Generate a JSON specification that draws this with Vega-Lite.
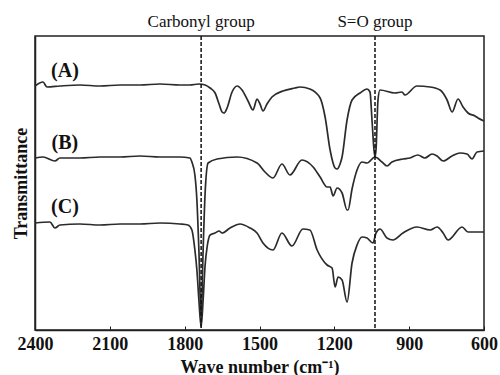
{
  "$schema": "https://vega.github.io/schema/vega-lite/v6.json",
  "autosize": {"type": "none"},
  "padding": {"left": 35, "top": 36, "right": 16, "bottom": 45},
  "width": 449,
  "height": 294,
  "background": "white",
  "config": {
    "view": {"stroke": null},
    "font": "Liberation Serif"
  },
  "datasets": {
    "spectra": [
      {"s":"A","wn":2400,"t":244},{"s":"A","wn":2368,"t":248},{"s":"A","wn":2352,"t":243},{"s":"A","wn":2300,"t":244},{"s":"A","wn":2220,"t":245},{"s":"A","wn":2139,"t":244},{"s":"A","wn":2059,"t":245},{"s":"A","wn":1979,"t":245},{"s":"A","wn":1899,"t":246},{"s":"A","wn":1819,"t":245},{"s":"A","wn":1779,"t":245},{"s":"A","wn":1743,"t":246},{"s":"A","wn":1718,"t":245},{"s":"A","wn":1698,"t":242},{"s":"A","wn":1678,"t":237},{"s":"A","wn":1662,"t":226},{"s":"A","wn":1650,"t":218},{"s":"A","wn":1642,"t":217},{"s":"A","wn":1630,"t":222},{"s":"A","wn":1610,"t":238},{"s":"A","wn":1590,"t":244},{"s":"A","wn":1570,"t":240},{"s":"A","wn":1546,"t":229},{"s":"A","wn":1526,"t":220},{"s":"A","wn":1510,"t":231},{"s":"A","wn":1498,"t":226},{"s":"A","wn":1486,"t":219},{"s":"A","wn":1470,"t":226},{"s":"A","wn":1450,"t":233},{"s":"A","wn":1406,"t":239},{"s":"A","wn":1358,"t":242},{"s":"A","wn":1338,"t":243},{"s":"A","wn":1298,"t":241},{"s":"A","wn":1257,"t":232},{"s":"A","wn":1237,"t":213},{"s":"A","wn":1217,"t":180},{"s":"A","wn":1197,"t":162},{"s":"A","wn":1189,"t":161},{"s":"A","wn":1177,"t":166},{"s":"A","wn":1169,"t":173},{"s":"A","wn":1149,"t":210},{"s":"A","wn":1129,"t":230},{"s":"A","wn":1097,"t":237},{"s":"A","wn":1069,"t":241},{"s":"A","wn":1057,"t":238},{"s":"A","wn":1049,"t":210},{"s":"A","wn":1041,"t":180},{"s":"A","wn":1037,"t":173},{"s":"A","wn":1033,"t":180},{"s":"A","wn":1025,"t":230},{"s":"A","wn":1017,"t":240},{"s":"A","wn":957,"t":237},{"s":"A","wn":929,"t":238},{"s":"A","wn":917,"t":235},{"s":"A","wn":869,"t":244},{"s":"A","wn":816,"t":243},{"s":"A","wn":776,"t":240},{"s":"A","wn":748,"t":230},{"s":"A","wn":728,"t":218},{"s":"A","wn":704,"t":231},{"s":"A","wn":684,"t":223},{"s":"A","wn":664,"t":217},{"s":"A","wn":636,"t":214},{"s":"A","wn":624,"t":212},{"s":"A","wn":600,"t":209},

      {"s":"B","wn":2400,"t":172},{"s":"B","wn":2368,"t":173},{"s":"B","wn":2320,"t":169},{"s":"B","wn":2300,"t":172},{"s":"B","wn":2220,"t":172},{"s":"B","wn":2139,"t":173},{"s":"B","wn":2059,"t":173},{"s":"B","wn":1979,"t":174},{"s":"B","wn":1899,"t":173},{"s":"B","wn":1819,"t":173},{"s":"B","wn":1779,"t":172},{"s":"B","wn":1771,"t":168},{"s":"B","wn":1759,"t":155},{"s":"B","wn":1751,"t":130},{"s":"B","wn":1743,"t":80},{"s":"B","wn":1734,"t":10},{"s":"B","wn":1726,"t":80},{"s":"B","wn":1718,"t":137},{"s":"B","wn":1706,"t":167},{"s":"B","wn":1670,"t":171},{"s":"B","wn":1590,"t":173},{"s":"B","wn":1510,"t":167},{"s":"B","wn":1478,"t":158},{"s":"B","wn":1446,"t":152},{"s":"B","wn":1410,"t":166},{"s":"B","wn":1378,"t":155},{"s":"B","wn":1330,"t":170},{"s":"B","wn":1285,"t":163},{"s":"B","wn":1257,"t":153},{"s":"B","wn":1229,"t":143},{"s":"B","wn":1217,"t":143},{"s":"B","wn":1205,"t":134},{"s":"B","wn":1189,"t":142},{"s":"B","wn":1169,"t":137},{"s":"B","wn":1149,"t":120},{"s":"B","wn":1145,"t":120},{"s":"B","wn":1129,"t":141},{"s":"B","wn":1109,"t":160},{"s":"B","wn":1089,"t":168},{"s":"B","wn":1069,"t":167},{"s":"B","wn":1037,"t":173},{"s":"B","wn":1009,"t":168},{"s":"B","wn":989,"t":164},{"s":"B","wn":969,"t":168},{"s":"B","wn":925,"t":171},{"s":"B","wn":897,"t":172},{"s":"B","wn":865,"t":175},{"s":"B","wn":837,"t":172},{"s":"B","wn":808,"t":176},{"s":"B","wn":788,"t":174},{"s":"B","wn":764,"t":169},{"s":"B","wn":728,"t":174},{"s":"B","wn":696,"t":177},{"s":"B","wn":668,"t":176},{"s":"B","wn":648,"t":171},{"s":"B","wn":628,"t":178},{"s":"B","wn":600,"t":179},

      {"s":"C","wn":2400,"t":107},{"s":"C","wn":2340,"t":108},{"s":"C","wn":2320,"t":102},{"s":"C","wn":2300,"t":105},{"s":"C","wn":2220,"t":106},{"s":"C","wn":2139,"t":105},{"s":"C","wn":2059,"t":106},{"s":"C","wn":1979,"t":106},{"s":"C","wn":1899,"t":107},{"s":"C","wn":1819,"t":106},{"s":"C","wn":1787,"t":105},{"s":"C","wn":1771,"t":100},{"s":"C","wn":1759,"t":80},{"s":"C","wn":1751,"t":60},{"s":"C","wn":1743,"t":30},{"s":"C","wn":1734,"t":3},{"s":"C","wn":1726,"t":30},{"s":"C","wn":1718,"t":65},{"s":"C","wn":1710,"t":83},{"s":"C","wn":1698,"t":95},{"s":"C","wn":1678,"t":97},{"s":"C","wn":1662,"t":99},{"s":"C","wn":1650,"t":97},{"s":"C","wn":1618,"t":102},{"s":"C","wn":1578,"t":106},{"s":"C","wn":1538,"t":102},{"s":"C","wn":1510,"t":97},{"s":"C","wn":1486,"t":87},{"s":"C","wn":1446,"t":80},{"s":"C","wn":1410,"t":97},{"s":"C","wn":1370,"t":84},{"s":"C","wn":1326,"t":101},{"s":"C","wn":1298,"t":100},{"s":"C","wn":1269,"t":80},{"s":"C","wn":1229,"t":65},{"s":"C","wn":1209,"t":62},{"s":"C","wn":1197,"t":43},{"s":"C","wn":1185,"t":53},{"s":"C","wn":1169,"t":50},{"s":"C","wn":1149,"t":28},{"s":"C","wn":1129,"t":67},{"s":"C","wn":1109,"t":85},{"s":"C","wn":1089,"t":93},{"s":"C","wn":1069,"t":92},{"s":"C","wn":1045,"t":87},{"s":"C","wn":1033,"t":97},{"s":"C","wn":1017,"t":101},{"s":"C","wn":989,"t":92},{"s":"C","wn":965,"t":90},{"s":"C","wn":925,"t":97},{"s":"C","wn":869,"t":103},{"s":"C","wn":816,"t":100},{"s":"C","wn":788,"t":103},{"s":"C","wn":764,"t":97},{"s":"C","wn":744,"t":90},{"s":"C","wn":688,"t":103},{"s":"C","wn":664,"t":98},{"s":"C","wn":628,"t":98},{"s":"C","wn":600,"t":98}
    ],
    "marks": [
      {"wn": 1734, "name": "Carbonyl group"},
      {"wn": 1037, "name": "S=O group"}
    ],
    "labels": [
      {"wn": 2280, "t": 259, "label": "(A)"},
      {"wn": 2280, "t": 187, "label": "(B)"},
      {"wn": 2280, "t": 123, "label": "(C)"}
    ],
    "frame": [
      {"x1": 2400, "x2": 600, "y1": 0, "y2": 294}
    ]
  },
  "layer": [
    {
      "data": {"name": "frame"},
      "mark": {"type": "rect", "fill": null, "stroke": "#222", "strokeWidth": 1.5},
      "encoding": {
        "x": {"field": "x1", "type": "quantitative", "scale": {"domain": [600, 2400], "reverse": true, "nice": false, "zero": false}},
        "x2": {"field": "x2"},
        "y": {"field": "y1", "type": "quantitative", "scale": {"domain": [0, 294], "nice": false, "zero": false}},
        "y2": {"field": "y2"}
      }
    },
    {
      "data": {"name": "spectra"},
      "mark": {"type": "line", "color": "#2b2b2b", "strokeWidth": 1.7, "interpolate": "monotone"},
      "encoding": {
        "x": {
          "field": "wn", "type": "quantitative",
          "scale": {"domain": [600, 2400], "reverse": true, "nice": false, "zero": false},
          "axis": {
            "values": [2400, 2100, 1800, 1500, 1200, 900, 600],
            "format": "d",
            "title": "Wave number (cm⁻¹)",
            "titleFont": "Liberation Serif", "titleFontSize": 18, "titleFontWeight": "bold", "titleColor": "#111",
            "titlePadding": 5,
            "labelFont": "Liberation Serif", "labelFontSize": 18, "labelFontWeight": "bold", "labelColor": "#111",
            "labelPadding": 9,
            "tickSize": -4, "tickColor": "#222", "domainColor": "#222", "domainWidth": 1.5,
            "grid": false, "labelFlush": false
          }
        },
        "y": {
          "field": "t", "type": "quantitative",
          "scale": {"domain": [0, 294], "nice": false, "zero": false},
          "axis": {
            "labels": false, "ticks": false, "grid": false,
            "title": "Transmittance",
            "titleFont": "Liberation Serif", "titleFontSize": 18, "titleFontWeight": "bold", "titleColor": "#111",
            "titlePadding": 5, "domainColor": "#222", "domainWidth": 1.5
          }
        },
        "detail": {"field": "s", "type": "nominal"}
      }
    },
    {
      "data": {"name": "marks"},
      "mark": {"type": "rule", "color": "#111", "strokeWidth": 1.5, "strokeDash": [4, 2]},
      "encoding": {
        "x": {"field": "wn", "type": "quantitative"}
      }
    },
    {
      "data": {"name": "marks"},
      "mark": {"type": "text", "font": "Liberation Serif", "fontSize": 17, "color": "#111", "y": -14, "baseline": "middle"},
      "encoding": {
        "x": {"field": "wn", "type": "quantitative"},
        "text": {"field": "name"}
      }
    },
    {
      "data": {"name": "labels"},
      "mark": {"type": "text", "font": "Liberation Serif", "fontSize": 20, "fontWeight": "bold", "color": "#111", "baseline": "middle"},
      "encoding": {
        "x": {"field": "wn", "type": "quantitative"},
        "y": {"field": "t", "type": "quantitative"},
        "text": {"field": "label"}
      }
    }
  ]
}
